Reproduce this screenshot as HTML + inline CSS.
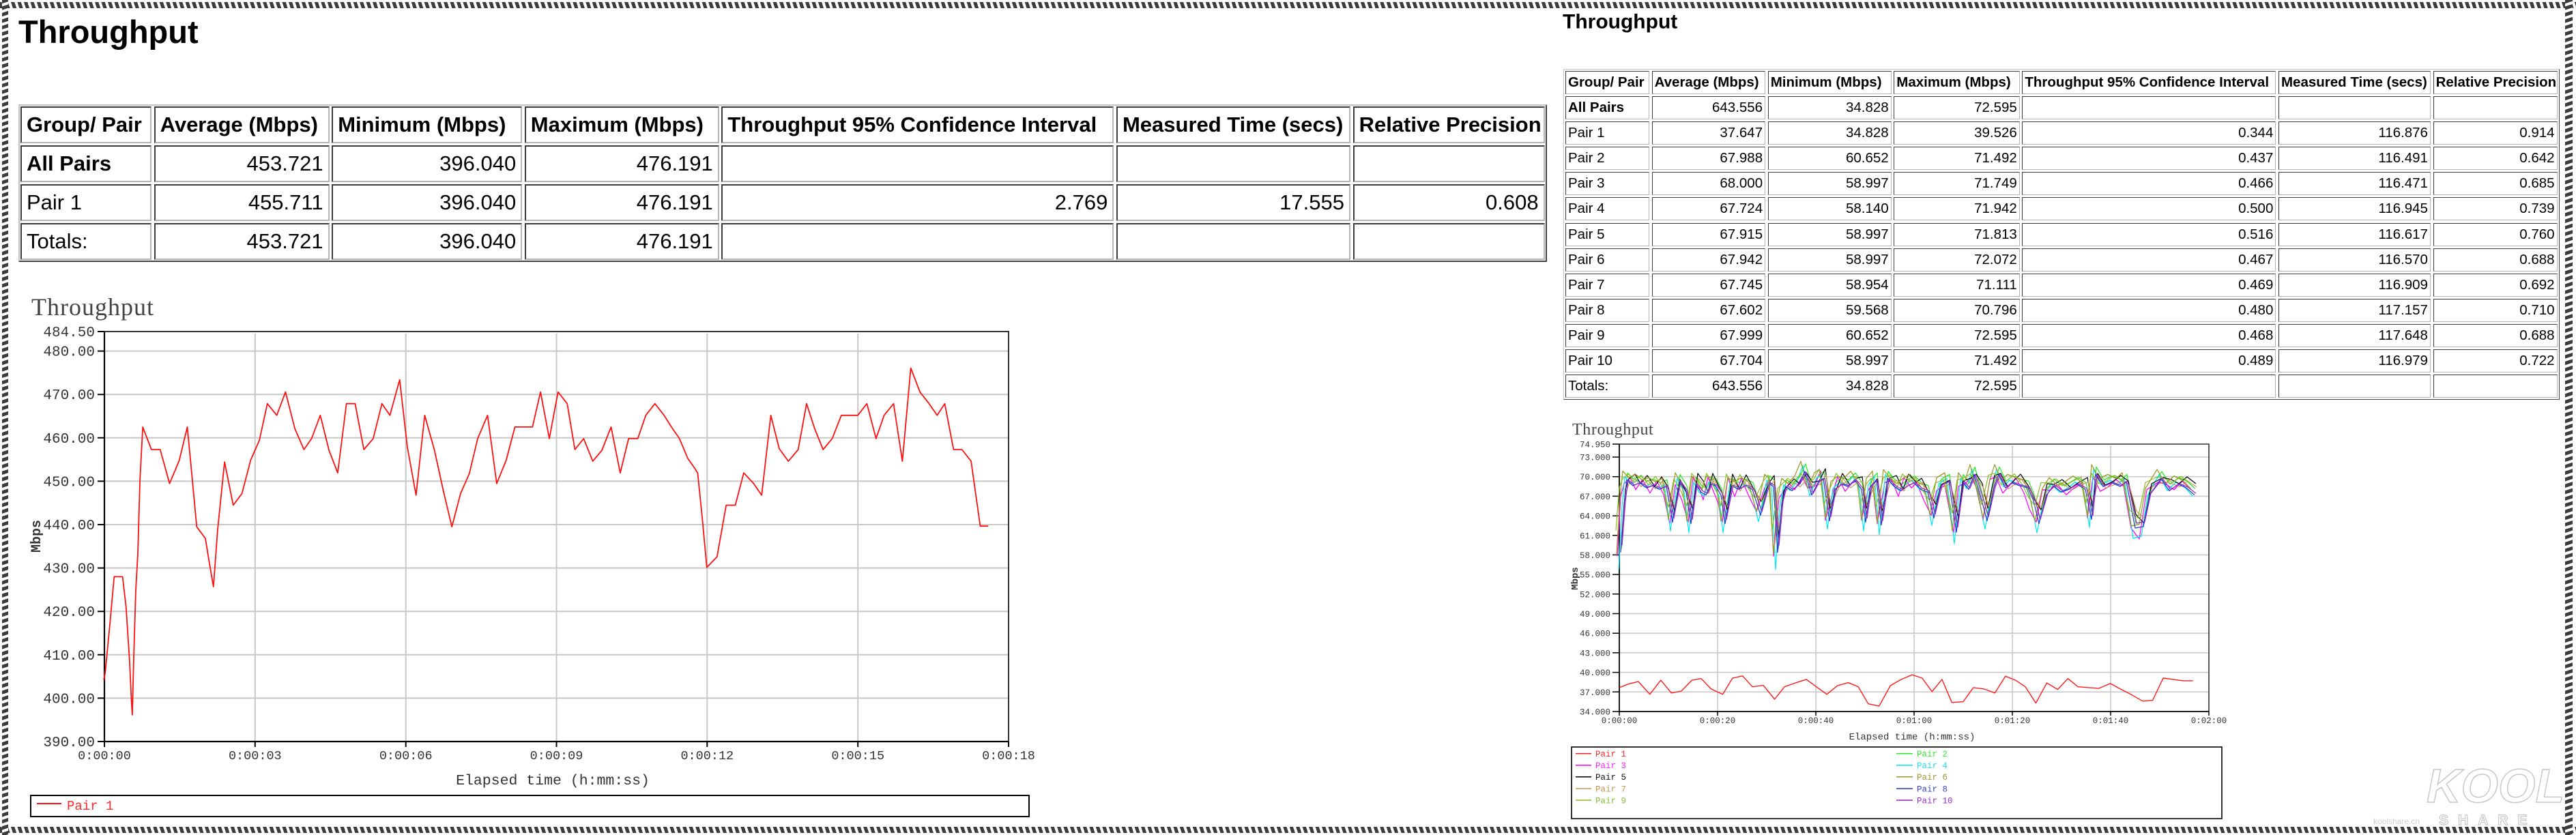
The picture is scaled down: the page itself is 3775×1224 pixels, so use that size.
<!DOCTYPE html>
<html><head><meta charset="utf-8"><style>
html,body{margin:0;padding:0}
body{width:3775px;height:1224px;position:relative;background:#fff;overflow:hidden;font-family:"Liberation Sans",sans-serif;color:#000}
.box{position:absolute;box-sizing:border-box;border-style:solid;border-color:#c4c4c4 #404040 #404040 #c4c4c4}
.row{position:absolute;display:flex}
.c{box-sizing:border-box;flex:none;border-style:solid;border-color:#3a3a3a #b4b4b4 #b4b4b4 #3a3a3a;white-space:nowrap;overflow:hidden;text-align:right}
.c.t{text-align:left}
.b{font-weight:bold}
.L .row{left:30px;gap:3.6px}
.L .c{border-width:2px;height:54px;line-height:50px;font-size:31px;padding:0 7px}
.L .c:nth-child(1){width:192px}.L .c:nth-child(2){width:257px}.L .c:nth-child(3){width:279px}.L .c:nth-child(4){width:285px}.L .c:nth-child(5){width:575px}.L .c:nth-child(6){width:343px}.L .c:nth-child(7){width:281px}
.R .row{left:2294px;gap:3.6px}
.R .c{border-width:1.5px;height:34px;line-height:31px;font-size:20.5px;padding:0 3px}
.R .c:nth-child(1){width:123px}.R .c:nth-child(2){width:166.5px}.R .c:nth-child(3){width:181px}.R .c:nth-child(4){width:184.5px}.R .c:nth-child(5){width:372px}.R .c:nth-child(6){width:223px}.R .c:nth-child(7){width:182px}
.st{position:absolute}
.sh{background:repeating-linear-gradient(72deg,#3c3c3c 0 5px,#fff 5px 9px)}
.sv{background:repeating-linear-gradient(162deg,#3c3c3c 0 5px,#fff 5px 9px)}
svg{position:absolute;left:0;top:0}
</style></head><body>

<div class="st sh" style="left:0;top:3px;width:3775px;height:9px"></div>
<div class="st sh" style="left:0;top:1212px;width:3775px;height:9px"></div>
<div class="st sv" style="left:3px;top:0;width:9px;height:1224px"></div>
<div class="st sv" style="left:3759px;top:0;width:11px;height:1224px"></div>

<!-- Left table -->
<div class="L">
<div class="box" style="left:27px;top:153px;width:2240px;height:231px;border-width:2px"></div>
<div class="row" style="top:156px">
<div class="c t b">Group/ Pair</div><div class="c t b">Average (Mbps)</div><div class="c t b">Minimum (Mbps)</div><div class="c t b">Maximum (Mbps)</div><div class="c t b">Throughput 95% Confidence Interval</div><div class="c t b">Measured Time (secs)</div><div class="c t b">Relative Precision</div>
</div>
<div class="row" style="top:213px">
<div class="c t b">All Pairs</div><div class="c">453.721</div><div class="c">396.040</div><div class="c">476.191</div><div class="c"></div><div class="c"></div><div class="c"></div>
</div>
<div class="row" style="top:270px">
<div class="c t">Pair 1</div><div class="c">455.711</div><div class="c">396.040</div><div class="c">476.191</div><div class="c">2.769</div><div class="c">17.555</div><div class="c">0.608</div>
</div>
<div class="row" style="top:327px">
<div class="c t">Totals:</div><div class="c">453.721</div><div class="c">396.040</div><div class="c">476.191</div><div class="c"></div><div class="c"></div><div class="c"></div>
</div>
</div>

<!-- Right table -->
<div class="R">
<div class="box" style="left:2291px;top:100.5px;width:1460px;height:485px;border-width:1.5px"></div>
<div class="row" style="top:103.6px"><div class="c t b">Group/ Pair</div><div class="c t b">Average (Mbps)</div><div class="c t b">Minimum (Mbps)</div><div class="c t b">Maximum (Mbps)</div><div class="c t b">Throughput 95% Confidence Interval</div><div class="c t b">Measured Time (secs)</div><div class="c t b">Relative Precision</div></div>
<div class="row" style="top:140.75px"><div class="c t b">All Pairs</div><div class="c">643.556</div><div class="c">34.828</div><div class="c">72.595</div><div class="c"></div><div class="c"></div><div class="c"></div></div>
<div class="row" style="top:177.9px"><div class="c t">Pair 1</div><div class="c">37.647</div><div class="c">34.828</div><div class="c">39.526</div><div class="c">0.344</div><div class="c">116.876</div><div class="c">0.914</div></div>
<div class="row" style="top:215.05px"><div class="c t">Pair 2</div><div class="c">67.988</div><div class="c">60.652</div><div class="c">71.492</div><div class="c">0.437</div><div class="c">116.491</div><div class="c">0.642</div></div>
<div class="row" style="top:252.2px"><div class="c t">Pair 3</div><div class="c">68.000</div><div class="c">58.997</div><div class="c">71.749</div><div class="c">0.466</div><div class="c">116.471</div><div class="c">0.685</div></div>
<div class="row" style="top:289.35px"><div class="c t">Pair 4</div><div class="c">67.724</div><div class="c">58.140</div><div class="c">71.942</div><div class="c">0.500</div><div class="c">116.945</div><div class="c">0.739</div></div>
<div class="row" style="top:326.5px"><div class="c t">Pair 5</div><div class="c">67.915</div><div class="c">58.997</div><div class="c">71.813</div><div class="c">0.516</div><div class="c">116.617</div><div class="c">0.760</div></div>
<div class="row" style="top:363.65px"><div class="c t">Pair 6</div><div class="c">67.942</div><div class="c">58.997</div><div class="c">72.072</div><div class="c">0.467</div><div class="c">116.570</div><div class="c">0.688</div></div>
<div class="row" style="top:400.8px"><div class="c t">Pair 7</div><div class="c">67.745</div><div class="c">58.954</div><div class="c">71.111</div><div class="c">0.469</div><div class="c">116.909</div><div class="c">0.692</div></div>
<div class="row" style="top:437.95px"><div class="c t">Pair 8</div><div class="c">67.602</div><div class="c">59.568</div><div class="c">70.796</div><div class="c">0.480</div><div class="c">117.157</div><div class="c">0.710</div></div>
<div class="row" style="top:475.1px"><div class="c t">Pair 9</div><div class="c">67.999</div><div class="c">60.652</div><div class="c">72.595</div><div class="c">0.468</div><div class="c">117.648</div><div class="c">0.688</div></div>
<div class="row" style="top:512.25px"><div class="c t">Pair 10</div><div class="c">67.704</div><div class="c">58.997</div><div class="c">71.492</div><div class="c">0.489</div><div class="c">116.979</div><div class="c">0.722</div></div>
<div class="row" style="top:549.4px"><div class="c t">Totals:</div><div class="c">643.556</div><div class="c">34.828</div><div class="c">72.595</div><div class="c"></div><div class="c"></div><div class="c"></div></div>
</div>

<svg width="3775" height="1224" viewBox="0 0 3775 1224" xmlns="http://www.w3.org/2000/svg">
<defs>
<path id="sA" fill="none" d="M2373,799 L2378,731 2382,698 2391,706 2401,702 2411,709 2420,706 2430,711 2440,707 2449,757 2459,700 2469,715 2476,759 2483,704 2491,715 2498,719 2505,704 2512,706 2520,719 2526,759 2536,706 2546,711 2556,706 2566,711 2578,747 2590,702 2597,707 2603,799 2609,731 2615,707 2624,713 2634,704 2643,686 2653,719 2663,700 2670,696 2679,755 2687,711 2697,704 2706,707 2716,698 2726,711 2732,757 2739,707 2748,698 2755,761 2764,696 2774,707 2784,713 2794,706 2803,702 2813,711 2823,715 2832,751 2842,706 2854,700 2865,771 2874,700 2883,711 2891,690 2900,719 2910,755 2920,709 2927,690 2937,709 2946,702 2958,706 2970,709 2978,727 2986,759 2997,719 3007,706 3019,715 3030,711 3042,704 3054,711 3063,753 3069,690 3080,707 3093,702 3105,707 3114,700 3127,765 3139,763 3148,719 3165,696 3177,713 3190,704 3202,709 3214,719"/>
<path id="sB" fill="none" d="M2373,790 L2378,720 2383,705 2392,698 2400,712 2410,700 2421,716 2431,702 2441,718 2450,752 2458,706 2468,725 2477,750 2484,697 2492,708 2499,724 2506,697 2513,712 2521,728 2527,750 2535,698 2545,720 2555,699 2565,718 2577,738 2589,710 2596,700 2602,790 2610,722 2616,715 2625,705 2633,712 2644,697 2652,710 2662,708 2671,690 2678,748 2688,718 2696,697 2707,714 2717,704 2725,702 2731,748 2740,714 2747,705 2754,752 2765,704 2775,700 2785,720 2793,698 2804,710 2812,704 2822,724 2833,742 2841,713 2853,707 2866,762 2873,708 2884,704 2892,698 2901,712 2909,748 2919,700 2928,697 2938,716 2947,708 2957,698 2969,716 2977,735 2987,750 2996,712 3006,713 3018,706 3031,718 3041,711 3055,703 3062,745 3070,697 3081,714 3092,709 3104,700 3115,708 3126,757 3138,770 3149,712 3166,703 3178,706 3189,712 3201,702 3214,712"/>
</defs>

<!-- Titles -->
<text x="27" y="63" font-family="Liberation Sans, sans-serif" font-weight="bold" font-size="47" fill="#000">Throughput</text>
<text x="2290" y="41.5" font-family="Liberation Sans, sans-serif" font-weight="bold" font-size="30" fill="#000">Throughput</text>

<!-- ===== Left chart ===== -->
<text x="46" y="462" font-family="Liberation Serif, serif" font-size="36" letter-spacing="1" fill="#444">Throughput</text>
<rect x="153" y="486" width="1325" height="601" fill="#fff" stroke="none"/>
<path d="M153 514.6H1478M153 578.2H1478M153 641.8H1478M153 705.4H1478M153 769H1478M153 832.6H1478M153 896.2H1478M153 959.8H1478M153 1023.4H1478" stroke="#c8c8c8" stroke-width="2" fill="none"/>
<path d="M373.8 489V1087M594.7 489V1087M815.5 489V1087M1036.3 489V1087M1257.2 489V1087" stroke="#c8c8c8" stroke-width="2" fill="none"/>
<path d="M153 486H1478V1087" stroke="#333" stroke-width="2" fill="none"/>
<path d="M153 486V1087H1478" stroke="#000" stroke-width="2.2" fill="none"/>
<path d="M143 486H153M143 514.6H153M143 578.2H153M143 641.8H153M143 705.4H153M143 769H153M143 832.6H153M143 896.2H153M143 959.8H153M143 1023.4H153M143 1087H153" stroke="#000" stroke-width="2" fill="none"/>
<path d="M153 1087V1095M373.8 1087V1095M594.7 1087V1095M815.5 1087V1095M1036.3 1087V1095M1257.2 1087V1095M1478 1087V1095" stroke="#000" stroke-width="2" fill="none"/>
<g font-family="Liberation Mono, monospace" font-size="21" fill="#333" text-anchor="end">
<text x="139" y="493">484.50</text>
<text x="139" y="521.6">480.00</text>
<text x="139" y="585.2">470.00</text>
<text x="139" y="648.8">460.00</text>
<text x="139" y="712.4">450.00</text>
<text x="139" y="776">440.00</text>
<text x="139" y="839.6">430.00</text>
<text x="139" y="903.2">420.00</text>
<text x="139" y="966.8">410.00</text>
<text x="139" y="1030.4">400.00</text>
<text x="139" y="1094">390.00</text>
</g>
<g font-family="Liberation Mono, monospace" font-size="18.5" fill="#333" text-anchor="middle">
<text x="153" y="1113">0:00:00</text>
<text x="373.8" y="1113">0:00:03</text>
<text x="594.7" y="1113">0:00:06</text>
<text x="815.5" y="1113">0:00:09</text>
<text x="1036.3" y="1113">0:00:12</text>
<text x="1257.2" y="1113">0:00:15</text>
<text x="1478" y="1113">0:00:18</text>
</g>
<text x="810" y="1150" font-family="Liberation Mono, monospace" font-size="21.5" fill="#333" text-anchor="middle">Elapsed time (h:mm:ss)</text>
<text transform="translate(59,786) rotate(-90)" font-family="Liberation Mono, monospace" font-size="20" font-weight="bold" fill="#333" text-anchor="middle">Mbps</text>
<polyline fill="none" stroke="#ff1010" stroke-width="1.8" stroke-linejoin="round" points="152.0,996.6 154.1,986.8 160.7,918.5 167.3,845.4 179.6,845.4 184.7,889.3 189.8,967.3 192.9,1033.2 193.9,1047.8 195.9,967.3 199.0,864.9 202.0,811.2 205.1,703.9 209.2,625.9 221.9,659.0 234.7,659.0 248.5,708.8 262.8,674.6 274.5,625.9 279.6,679.5 288.3,772.2 301.0,789.3 306.1,821.0 312.8,860.0 318.9,777.1 329.1,677.1 341.8,740.5 354.6,723.4 367.3,674.6 380.1,645.4 391.8,591.7 405.6,608.8 418.4,574.6 432.1,628.3 445.4,659.0 456.6,642.9 469.4,608.8 482.1,660.0 494.9,693.2 507.7,591.7 520.4,591.7 533.2,659.0 546.9,642.9 559.7,591.7 571.4,608.8 585.7,556.6 596.9,655.1 609.7,725.9 622.4,608.8 636.7,660.0 649.5,718.5 662.2,772.2 675.0,723.4 687.8,694.1 700.0,642.9 714.5,608.8 727.9,708.8 741.8,674.6 754.6,625.9 780.3,625.9 792.1,574.6 805.0,642.9 817.8,574.6 831.2,591.7 842.5,659.0 855.3,642.9 868.7,676.1 882.1,660.0 895.5,625.9 908.9,693.2 921.2,642.9 934.6,642.9 946.4,608.8 959.8,591.7 973.2,608.8 983.9,625.9 995.7,642.9 1008.0,672.2 1016.0,683.4 1022.4,693.2 1029.4,762.4 1035.8,831.7 1050.8,816.1 1064.2,740.5 1077.6,740.5 1089.9,693.2 1104.4,708.8 1116.2,725.9 1129.6,608.8 1141.9,657.6 1155.3,676.1 1169.7,659.0 1182.0,591.7 1193.8,628.3 1206.2,659.0 1219.6,642.9 1232.9,608.8 1257.0,608.8 1270.4,591.7 1283.8,642.9 1295.6,608.8 1309.5,591.7 1322.4,676.1 1334.7,539.5 1348.1,574.6 1361.5,591.7 1373.3,608.8 1384.5,591.7 1397.4,659.0 1409.7,659.0 1423.1,676.1 1436.5,771.2 1448.3,771.2"/>
<rect x="45" y="1166" width="1463" height="31" fill="none" stroke="#000" stroke-width="2"/>
<line x1="54" y1="1178" x2="90" y2="1178" stroke="#ff1010" stroke-width="2"/>
<text x="98" y="1187" font-family="Liberation Mono, monospace" font-size="19" fill="#ff2a2a">Pair 1</text>

<!-- ===== Right chart ===== -->
<text x="2304" y="637" font-family="Liberation Serif, serif" font-size="24" letter-spacing="0.6" fill="#444">Throughput</text>
<path d="M2373 670H3237M2373 698.7H3237M2373 727.4H3237M2373 756.1H3237M2373 784.8H3237M2373 813.4H3237M2373 842.1H3237M2373 870.8H3237M2373 899.5H3237M2373 928.2H3237M2373 956.9H3237M2373 985.6H3237M2373 1014.3H3237" stroke="#cacaca" stroke-width="1.6" fill="none"/>
<path d="M2517 653V1043M2661 653V1043M2805 653V1043M2949 653V1043M3093 653V1043" stroke="#cacaca" stroke-width="1.6" fill="none"/>
<path d="M2373 651H3237V1043" stroke="#333" stroke-width="1.6" fill="none"/>
<path d="M2373 651V1043H3237" stroke="#000" stroke-width="1.8" fill="none"/>
<path d="M2363 651H2373M2363 670H2373M2363 698.7H2373M2363 727.4H2373M2363 756.1H2373M2363 784.8H2373M2363 813.4H2373M2363 842.1H2373M2363 870.8H2373M2363 899.5H2373M2363 928.2H2373M2363 956.9H2373M2363 985.6H2373M2363 1014.3H2373M2363 1043H2373" stroke="#000" stroke-width="1.5" fill="none"/>
<path d="M2373 1043V1049M2517 1043V1049M2661 1043V1049M2805 1043V1049M2949 1043V1049M3093 1043V1049M3237 1043V1049" stroke="#000" stroke-width="1.5" fill="none"/>
<g font-family="Liberation Mono, monospace" font-size="12.5" fill="#333" text-anchor="end">
<text x="2360" y="655.5">74.950</text>
<text x="2360" y="674.5">73.000</text>
<text x="2360" y="703.2">70.000</text>
<text x="2360" y="731.9">67.000</text>
<text x="2360" y="760.6">64.000</text>
<text x="2360" y="789.3">61.000</text>
<text x="2360" y="817.9">58.000</text>
<text x="2360" y="846.6">55.000</text>
<text x="2360" y="875.3">52.000</text>
<text x="2360" y="904">49.000</text>
<text x="2360" y="932.7">46.000</text>
<text x="2360" y="961.4">43.000</text>
<text x="2360" y="990.1">40.000</text>
<text x="2360" y="1018.8">37.000</text>
<text x="2360" y="1047.5">34.000</text>
</g>
<g font-family="Liberation Mono, monospace" font-size="12.5" fill="#333" text-anchor="middle">
<text x="2373" y="1060">0:00:00</text>
<text x="2517" y="1060">0:00:20</text>
<text x="2661" y="1060">0:00:40</text>
<text x="2805" y="1060">0:01:00</text>
<text x="2949" y="1060">0:01:20</text>
<text x="3093" y="1060">0:01:40</text>
<text x="3237" y="1060">0:02:00</text>
</g>
<text x="2802" y="1084" font-family="Liberation Mono, monospace" font-size="14" fill="#333" text-anchor="middle">Elapsed time (h:mm:ss)</text>
<text transform="translate(2312,848) rotate(-90)" font-family="Liberation Mono, monospace" font-size="14" font-weight="bold" fill="#333" text-anchor="middle">Mbps</text>

<g stroke-width="1.2" stroke-linejoin="round">
<use href="#sA" stroke="#22ee22" transform="translate(3,-4) translate(0,705) scale(1,1.1) translate(0,-705)"/>
<use href="#sB" stroke="#ff00ff" transform="translate(-3,4) translate(0,705) scale(1,1.25) translate(0,-705)"/>
<use href="#sA" stroke="#00e8f0" transform="translate(-1,3) translate(0,705) scale(1,1.35) translate(0,-705)"/>
<use href="#sB" stroke="#000000" transform="translate(4,-3)"/>
<use href="#sA" stroke="#999922" transform="translate(-4,-6) translate(0,705) scale(1,1.2) translate(0,-705)"/>
<use href="#sB" stroke="#c89050" transform="translate(5,3) translate(0,705) scale(1,0.8) translate(0,-705)"/>
<use href="#sA" stroke="#2233cc" transform="translate(2,6) translate(0,705) scale(1,1.05) translate(0,-705)"/>
<use href="#sB" stroke="#88bb22" transform="translate(-5,-4) translate(0,705) scale(1,0.9) translate(0,-705)"/>
<use href="#sA" stroke="#9922cc" transform="translate(4,5) translate(0,705) scale(1,0.95) translate(0,-705)"/>
</g>
<polyline fill="none" stroke="#ff1a1a" stroke-width="1.4" stroke-linejoin="round" points="2373.2,1007.9 2386.3,1002.7 2400.9,999.1 2417.8,1017.8 2433.8,997.1 2449.4,1015.8 2463.9,1013 2479.4,997.1 2493,994.7 2507.5,1009.9 2524.5,1017.8 2539,994 2553.6,990.8 2568.1,1006.7 2584.1,1004.7 2600.6,1025 2615.1,1006.7 2631.1,1001.1 2647.1,995.9 2661.7,1006.7 2677.2,1017.8 2692.7,1005.1 2708.7,1000.7 2723.2,1006.7 2737.8,1031.7 2753.8,1034.9 2770.2,1005.1 2786.2,995.9 2802.2,989.2 2816.8,994 2831.3,1013.8 2845.9,995.9 2860.4,1029.8 2876.9,1028.6 2891.9,1007.9 2907.4,1009.9 2923.4,1015.8 2938.9,991.2 2953.5,997.1 2968,1006.7 2983.5,1030.6 2999.5,1001.1 3015.5,1010.6 3030.5,994.7 3045,1006.7 3061,1007.9 3075.6,1009.1 3092.6,1001.9 3107.1,1009.9 3122.6,1017.8 3140.1,1027.8 3154.6,1026.6 3170.1,994 3184.7,995.9 3199.2,997.9 3213.7,997.9"/>

<rect x="2303" y="1095" width="953" height="105" fill="none" stroke="#000" stroke-width="1.6"/>
<g stroke-width="1.5">
<line x1="2309" y1="1104.6" x2="2332" y2="1104.6" stroke="#ff1a1a"/>
<line x1="2779" y1="1104.6" x2="2803" y2="1104.6" stroke="#22ee22"/>
<line x1="2309" y1="1121.7" x2="2332" y2="1121.7" stroke="#ff00ff"/>
<line x1="2779" y1="1121.7" x2="2803" y2="1121.7" stroke="#00e8f0"/>
<line x1="2309" y1="1138.8" x2="2332" y2="1138.8" stroke="#000"/>
<line x1="2779" y1="1138.8" x2="2803" y2="1138.8" stroke="#999922"/>
<line x1="2309" y1="1156" x2="2332" y2="1156" stroke="#c89050"/>
<line x1="2779" y1="1156" x2="2803" y2="1156" stroke="#2233cc"/>
<line x1="2309" y1="1173" x2="2332" y2="1173" stroke="#88bb22"/>
<line x1="2779" y1="1173" x2="2803" y2="1173" stroke="#9922cc"/>
</g>
<g font-family="Liberation Mono, monospace" font-size="12.5">
<text x="2338" y="1109" fill="#ff2a2a">Pair 1</text>
<text x="2809" y="1109" fill="#33ee33">Pair 2</text>
<text x="2338" y="1126" fill="#ff22ff">Pair 3</text>
<text x="2809" y="1126" fill="#22e0ee">Pair 4</text>
<text x="2338" y="1143" fill="#111">Pair 5</text>
<text x="2809" y="1143" fill="#999933">Pair 6</text>
<text x="2338" y="1160.5" fill="#c89050">Pair 7</text>
<text x="2809" y="1160.5" fill="#3344cc">Pair 8</text>
<text x="2338" y="1177.5" fill="#88bb33">Pair 9</text>
<text x="2809" y="1177.5" fill="#9933cc">Pair 10</text>
</g>

<!-- watermark -->
<text x="3556" y="1176" font-family="Liberation Sans, sans-serif" font-weight="bold" font-style="italic" font-size="70" fill="#fff" stroke="#c8c8c8" stroke-width="1.5">KOOL</text>
<text x="3574" y="1209" font-family="Liberation Sans, sans-serif" font-weight="bold" font-size="21" letter-spacing="14" fill="#fff" stroke="#bdbdbd" stroke-width="1">SHARE</text>
<text x="3478" y="1208" font-family="Liberation Sans, sans-serif" font-size="12" fill="#cfcfcf">koolshare.cn</text>
</svg>
</body></html>
